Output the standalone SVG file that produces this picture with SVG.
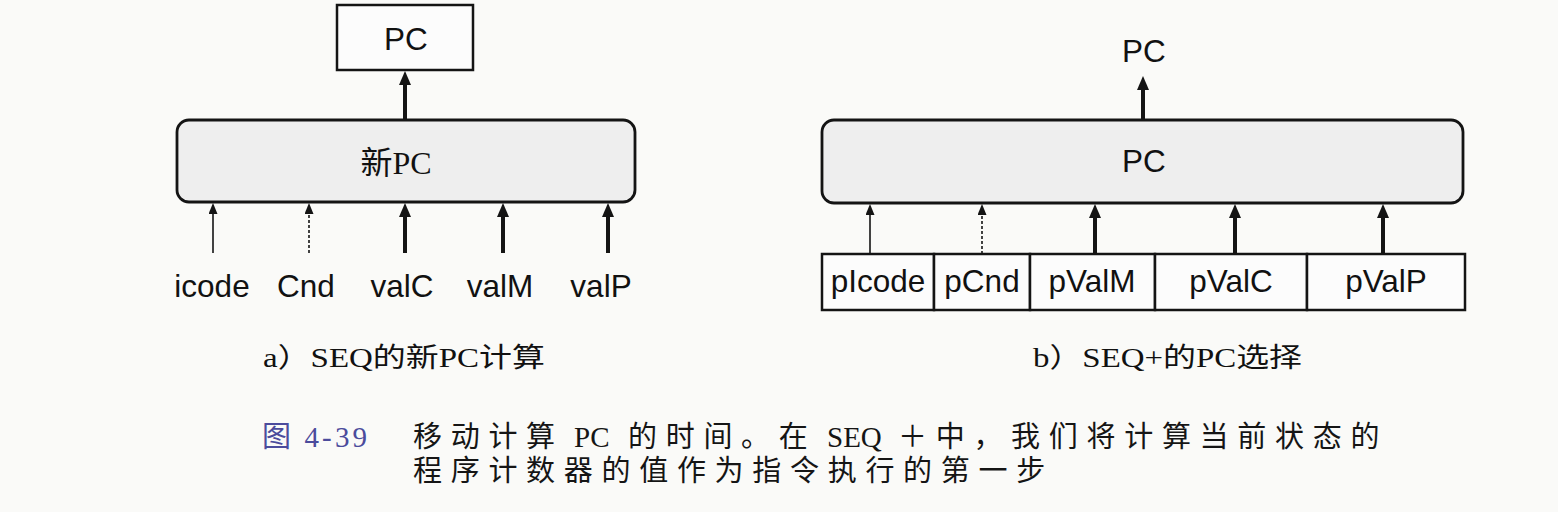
<svg xmlns="http://www.w3.org/2000/svg" width="1558" height="512" viewBox="0 0 1558 512">
<style>
.box{fill:#fcfcfc;stroke:#141414;stroke-width:2.5}
.rbox{fill:#eeeeee;stroke:#141414;stroke-width:2.8}
.thick{stroke:#141414;stroke-width:4;fill:none}
.thin{stroke:#141414;stroke-width:1.6;fill:none}
.dot{stroke:#141414;stroke-width:1.6;fill:none;stroke-dasharray:3 2}
.sans{font-family:"Liberation Sans",Arial,sans-serif;font-size:31.5px;fill:#111;text-anchor:middle}
.serif{font-family:"Liberation Serif","Noto Sans CJK SC",serif;fill:#111}
.cap{font-family:"Liberation Serif","Noto Sans CJK SC",serif;font-size:27px;fill:#111}
.fig{font-family:"Liberation Serif","Noto Sans CJK SC",serif;font-size:29px;fill:#151515}
.cj{letter-spacing:8.7px}
</style>
<defs>
<marker id="ahThick" markerUnits="userSpaceOnUse" viewBox="0 0 14 12" markerWidth="14" markerHeight="12" refX="1" refY="6" orient="auto"><path d="M0,0 L14,6 L0,12 z" fill="#141414"/></marker>
<marker id="ahThin" markerUnits="userSpaceOnUse" viewBox="0 0 11 9" markerWidth="11" markerHeight="9" refX="1" refY="4.5" orient="auto"><path d="M0,0 L11,4.5 L0,9 z" fill="#141414"/></marker>
</defs>
<rect x="0" y="0" width="1558" height="512" fill="#fafaf8"/>

<!-- Left diagram (a) -->
<g id="a-pc">
<rect class="box" x="337" y="5" width="136" height="65"/>
<text class="sans" x="406" y="50" font-size="32">PC</text>
</g>
<g id="a-newpc">
<rect class="rbox" x="177" y="120" width="458" height="82" rx="12" ry="12"/>
<text class="serif" x="396" y="174" font-size="32" text-anchor="middle">新PC</text>
</g>
<g id="a-inputs">
<text class="sans" x="212" y="297">icode</text>
<text class="sans" x="306" y="297">Cnd</text>
<text class="sans" x="402" y="297">valC</text>
<text class="sans" x="500" y="297">valM</text>
<text class="sans" x="601" y="297">valP</text>
</g>

<!-- Right diagram (b) -->
<g id="b-pc-out">
<text class="sans" x="1144" y="62" font-size="33">PC</text>
</g>
<g id="b-pc">
<rect class="rbox" x="822" y="120" width="641" height="83" rx="12" ry="12"/>
<text class="sans" x="1144" y="172" font-size="33">PC</text>
</g>
<g id="b-regs">
<rect class="box" x="822" y="254" width="112" height="56"/>
<rect class="box" x="934" y="254" width="96" height="56"/>
<rect class="box" x="1030" y="254" width="125" height="56"/>
<rect class="box" x="1155" y="254" width="152" height="56"/>
<rect class="box" x="1307" y="254" width="158" height="56"/>
<text class="sans" x="878" y="292">pIcode</text>
<text class="sans" x="982" y="292">pCnd</text>
<text class="sans" x="1092" y="292">pValM</text>
<text class="sans" x="1231" y="292">pValC</text>
<text class="sans" x="1386" y="292">pValP</text>
</g>

<!-- Connectors -->
<g id="connectors">
<line class="thick" x1="405" y1="120" x2="405" y2="84" marker-end="url(#ahThick)"/>
<line class="thin" x1="213" y1="253" x2="213" y2="213" marker-end="url(#ahThin)"/>
<line class="dot" x1="309" y1="253" x2="309" y2="213" marker-end="url(#ahThin)"/>
<line class="thick" x1="405" y1="253" x2="405" y2="216" marker-end="url(#ahThick)"/>
<line class="thick" x1="503" y1="253" x2="503" y2="216" marker-end="url(#ahThick)"/>
<line class="thick" x1="608" y1="253" x2="608" y2="216" marker-end="url(#ahThick)"/>

<line class="thick" x1="1143" y1="120" x2="1143" y2="89" marker-end="url(#ahThick)"/>
<line class="thin" x1="870" y1="254" x2="870" y2="214" marker-end="url(#ahThin)"/>
<line class="dot" x1="982" y1="254" x2="982" y2="214" marker-end="url(#ahThin)"/>
<line class="thick" x1="1095" y1="254" x2="1095" y2="217" marker-end="url(#ahThick)"/>
<line class="thick" x1="1235" y1="254" x2="1235" y2="217" marker-end="url(#ahThick)"/>
<line class="thick" x1="1383" y1="254" x2="1383" y2="217" marker-end="url(#ahThick)"/>
</g>

<!-- Captions -->
<g id="captions">
<text class="cap" x="263" y="367" textLength="282" lengthAdjust="spacingAndGlyphs">a）SEQ的新PC计算</text>
<text class="cap" x="1033" y="367" textLength="269" lengthAdjust="spacingAndGlyphs">b）SEQ+的PC选择</text>
<text class="fig" x="262" y="447" style="fill:#4b4b9c" textLength="105" lengthAdjust="spacing">图 4-39</text>
<text class="fig" y="447"><tspan class="cj" x="413">移动计算</tspan><tspan x="574">PC</tspan><tspan class="cj" x="628">的时间。在</tspan><tspan x="827">SEQ</tspan><tspan class="cj" x="898">＋中，我们将计算当前状态的</tspan></text>
<text class="fig cj" x="413" y="481">程序计数器的值作为指令执行的第一步</text>
</g>
</svg>
